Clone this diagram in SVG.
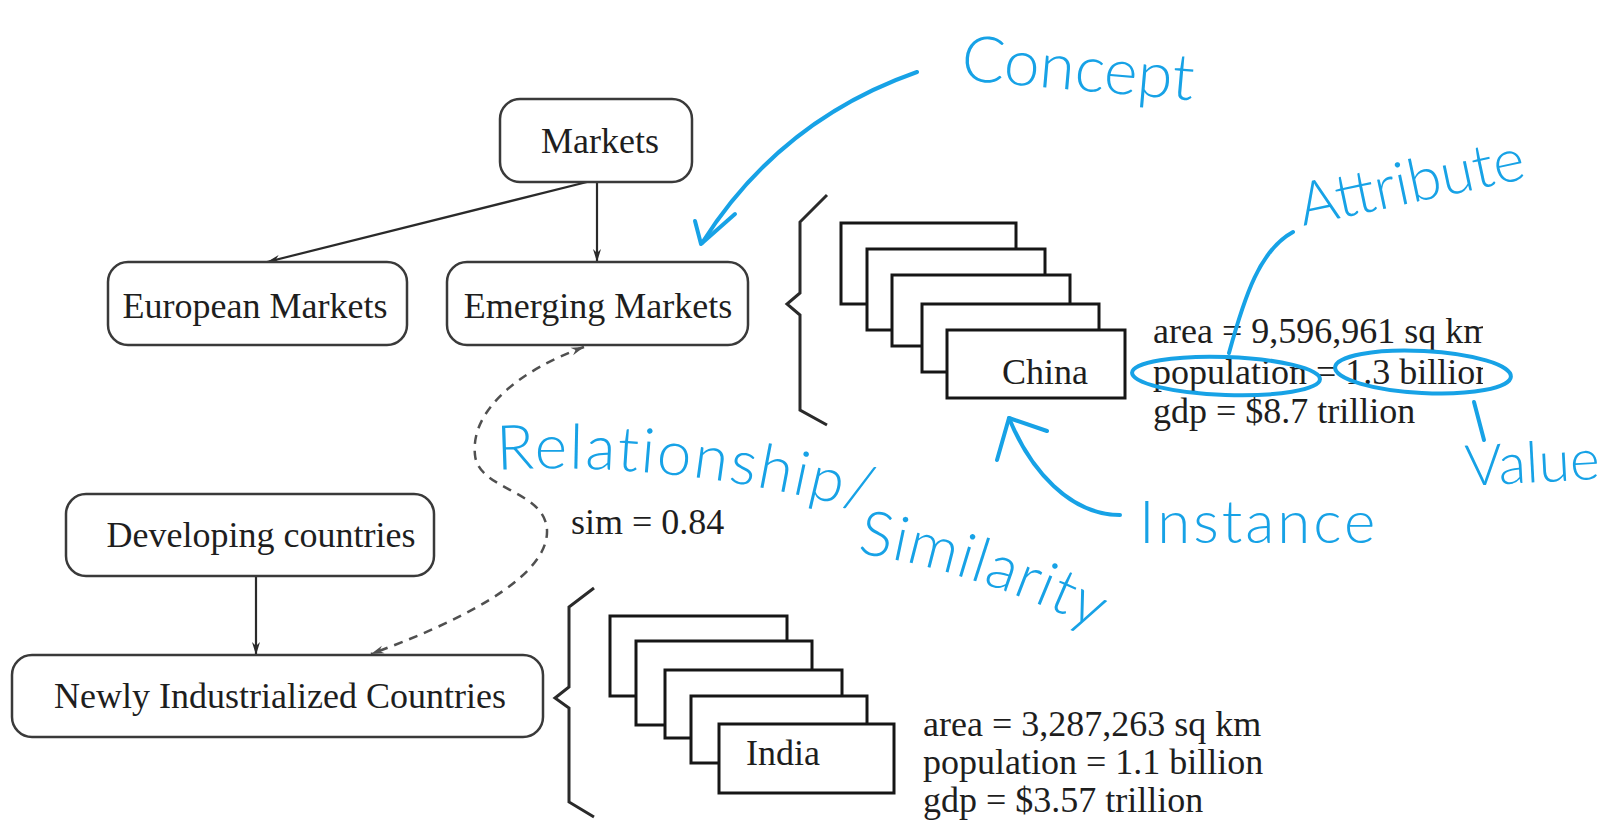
<svg xmlns="http://www.w3.org/2000/svg" width="1622" height="825" viewBox="0 0 1622 825">
<style>
.box{fill:#fff;stroke:#3a3a3a;stroke-width:2.5}
.lbl{font-family:"Liberation Serif","Times New Roman",serif;font-size:36px;fill:#1e1e1e}
.card{fill:#fff;stroke:#161616;stroke-width:3}
.brace{fill:none;stroke:#2a2a2a;stroke-width:3;stroke-linejoin:miter}
.edge{fill:none;stroke:#2a2a2a;stroke-width:2.2}
.dash{fill:none;stroke:#505050;stroke-width:2.5;stroke-dasharray:9 7}
.ink{fill:none;stroke:#17a2e6;stroke-width:4;stroke-linecap:round;stroke-linejoin:round}
.hand{font-family:Lato,"Open Sans","DejaVu Sans",sans-serif;font-weight:300;fill:#17a2e6}
</style>
<defs>
<marker id="ah" viewBox="0 0 14 10" refX="13" refY="5" markerWidth="14" markerHeight="10" markerUnits="userSpaceOnUse" orient="auto-start-reverse">
<path d="M0,1 L13,5 L0,9 L4,5 Z" fill="#2a2a2a"/>
</marker>
<marker id="ahd" viewBox="0 0 14 10" refX="13" refY="5" markerWidth="14" markerHeight="10" markerUnits="userSpaceOnUse" orient="auto-start-reverse">
<path d="M0,1 L13,5 L0,9 L4,5 Z" fill="#505050"/>
</marker>
<clipPath id="clipChina"><rect x="1140" y="300" width="343" height="140"/></clipPath>
<path id="relPath1" d="M497 470 Q690 460 890 518"/>
<path id="relPath2" d="M857 553 Q985 572 1120 642"/>
</defs>

<g id="connectors">
<path class="edge" d="M587 182 L267 262" marker-end="url(#ah)"/>
<path class="edge" d="M597 182 L597 262" marker-end="url(#ah)"/>
<path class="edge" d="M256 576 L256 655" marker-end="url(#ah)"/>
<path class="dash" d="M584 347 C520 370 470 410 475 455 C478 490 545 490 547 530 C549 580 450 625 371 654" marker-start="url(#ahd)" marker-end="url(#ahd)"/>
</g>

<g id="node-markets">
<rect class="box" x="500" y="99" width="192" height="83" rx="20"/>
<text class="lbl" x="600" y="153" text-anchor="middle">Markets</text>
</g>
<g id="node-european">
<rect class="box" x="108" y="262" width="299" height="83" rx="20"/>
<text class="lbl" x="255" y="318" text-anchor="middle">European Markets</text>
</g>
<g id="node-emerging">
<rect class="box" x="447" y="262" width="301" height="83" rx="20"/>
<text class="lbl" x="598" y="318" text-anchor="middle">Emerging Markets</text>
</g>
<g id="node-developing">
<rect class="box" x="66" y="494" width="368" height="82" rx="20"/>
<text class="lbl" x="261" y="547" text-anchor="middle">Developing countries</text>
</g>
<g id="node-newly">
<rect class="box" x="12" y="655" width="531" height="82" rx="20"/>
<text class="lbl" x="280" y="708" text-anchor="middle">Newly Industrialized Countries</text>
</g>

<g id="sim-label">
<text class="lbl" x="571" y="534">sim = 0.84</text>
</g>

<g id="china-instances">
<path class="brace" d="M827 195 L800 222 L800 293 L787 304 L800 315 L800 410 L827 425"/>
<rect class="card" x="841" y="223" width="175" height="81"/>
<rect class="card" x="867" y="249" width="178" height="81"/>
<rect class="card" x="892" y="275" width="178" height="71"/>
<rect class="card" x="922" y="304" width="177" height="68"/>
<rect class="card" x="947" y="330" width="178" height="68"/>
<text class="lbl" x="1045" y="384" text-anchor="middle">China</text>
<g clip-path="url(#clipChina)">
<text class="lbl" x="1153" y="343">area = 9,596,961 sq km</text>
<text class="lbl" x="1153" y="384">population = 1.3 billion</text>
<text class="lbl" x="1153" y="423">gdp = $8.7 trillion</text>
</g>
</g>

<g id="india-instances">
<path class="brace" d="M594 588 L569 607 L569 687 L555 698 L569 708 L569 802 L594 817"/>
<rect class="card" x="610" y="616" width="177" height="80"/>
<rect class="card" x="636" y="641" width="176" height="84"/>
<rect class="card" x="665" y="670" width="177" height="68"/>
<rect class="card" x="691" y="696" width="176" height="67"/>
<rect class="card" x="719" y="724" width="175" height="69"/>
<text class="lbl" x="746" y="765">India</text>
<text class="lbl" x="923" y="736">area = 3,287,263 sq km</text>
<text class="lbl" x="923" y="774">population = 1.1 billion</text>
<text class="lbl" x="923" y="812">gdp = $3.57 trillion</text>
</g>

<g id="annotations">
<text class="hand" x="960" y="80" font-size="64" transform="rotate(5 960 80)">Concept</text>
<path class="ink" d="M917 72 Q780 120 702 243"/>
<path class="ink" d="M695 221 L701 244 L735 214"/>

<text class="hand" x="1303" y="226" font-size="60" transform="rotate(-12 1303 226)">Attribute</text>
<path class="ink" d="M1229 353 C1245 295 1260 250 1293 232"/>
<ellipse class="ink" cx="1226" cy="376" rx="94" ry="19" transform="rotate(2 1226 376)"/>
<ellipse class="ink" cx="1423" cy="372" rx="88" ry="21" transform="rotate(3 1423 372)"/>
<path class="ink" d="M1474 402 L1484 440"/>
<text class="hand" x="1466" y="486" font-size="57" transform="rotate(-3 1466 486)">Value</text>

<text class="hand" x="1139" y="543" font-size="60" letter-spacing="3">Instance</text>
<path class="ink" d="M1120 515 C1070 515 1030 470 1009 418"/>
<path class="ink" d="M997 460 L1009 418 L1047 431"/>

<text class="hand" font-size="62"><textPath href="#relPath1" letter-spacing="2">Relationship/</textPath><textPath href="#relPath2" letter-spacing="1">Similarity</textPath></text>
</g>
</svg>
